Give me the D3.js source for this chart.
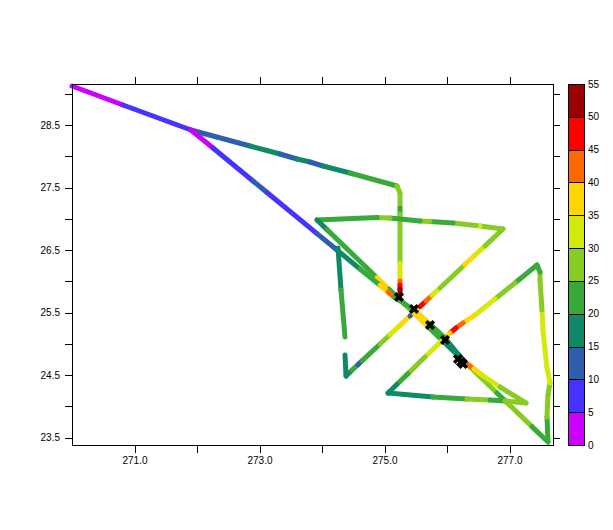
<!DOCTYPE html>
<html>
<head>
<meta charset="utf-8">
<script src="https://cdn.jsdelivr.net/npm/d3@7"></script>
<style>
  html, body { margin: 0; padding: 0; background: #fff; }
  svg text { font-family: "Liberation Sans", Arial, sans-serif; font-size: 10px; fill: #000; }
</style>
</head>
<body>
<svg id="chart" width="613" height="530"></svg>
<script>
// ---------- data ----------
// each point: [longitude, latitude, value]; value colours the segment that starts at the point
const legOutbound = [
  [270.000, 29.124, 2], [270.816, 28.820, 7], [271.904, 28.420, 12], [272.848, 28.164, 17],
  [273.328, 28.036, 12], [273.600, 27.956, 17], [273.808, 27.908, 12], [274.016, 27.844, 17],
  [274.448, 27.732, 22], [275.200, 27.524, 27], [275.248, 27.412, 27], [275.248, 27.172, 22],
  [275.248, 27.076, 27], [275.248, 26.292, 32], [275.248, 26.004, 42], [275.248, 25.940, 48],
  [275.248, 25.876, 52], [275.248, 25.828, 52]
];
const legDiagonal = [
  [271.904, 28.420, 3], [272.256, 28.132, 7], [272.896, 27.604, 12], [273.120, 27.420, 7],
  [273.920, 26.762, 12], [274.240, 26.500, 17], [274.608, 26.196, 22], [274.928, 25.934, 35],
  [275.056, 25.828, 42], [275.152, 25.748, 22], [275.232, 25.700, 22], [275.472, 25.540, 35],
  [275.728, 25.316, 22], [275.968, 25.092, 17], [276.176, 24.836, 17], [276.304, 24.692, 42],
  [276.432, 24.596, 36], [276.560, 24.500, 30], [276.848, 24.308, 27], [277.264, 24.052, 27]
];
const legSouth = [
  [274.256, 26.532, 17], [274.304, 25.860, 22], [274.368, 25.108, 22]
];
const legPattern = [
  [274.368, 24.820, 17], [274.384, 24.484, 17], [274.480, 24.577, 22], [274.576, 24.666, 12],
  [274.640, 24.727, 22], [274.928, 24.996, 27], [275.088, 25.145, 32], [275.248, 25.295, 35],
  [275.408, 25.444, 12], [275.488, 25.519, 36], [275.568, 25.594, 48], [275.664, 25.684, 42],
  [275.760, 25.774, 32], [275.888, 25.892, 27], [276.288, 26.268, 36], [276.448, 26.417, 32],
  [276.608, 26.567, 27], [276.896, 26.836, 27], [276.528, 26.884, 32], [276.464, 26.892, 27],
  [276.096, 26.932, 22], [275.728, 26.956, 27], [275.568, 26.964, 22], [275.088, 27.012, 27],
  [274.880, 27.020, 22], [273.920, 26.980, 17], [274.080, 26.826, 22], [274.880, 26.057, 35],
  [275.072, 25.873, 22], [275.328, 25.626, 27], [275.472, 25.489, 35], [275.696, 25.273, 22],
  [275.936, 25.042, 17], [276.128, 24.858, 22], [276.368, 24.628, 27], [276.800, 24.212, 22],
  [276.960, 24.058, 27], [277.360, 23.674, 22], [277.616, 23.428, 22], [277.600, 23.828, 27],
  [277.616, 24.180, 27], [277.648, 24.372, 30], [277.600, 24.612, 32], [277.568, 24.900, 32],
  [277.536, 25.220, 32], [277.520, 25.540, 27], [277.488, 26.020, 27], [277.488, 26.148, 22],
  [277.440, 26.260, 22], [277.088, 25.972, 27], [276.768, 25.716, 32], [276.448, 25.460, 36],
  [276.256, 25.332, 42], [276.144, 25.252, 48], [276.048, 25.172, 36], [275.888, 25.018, 32],
  [275.648, 24.788, 27], [275.376, 24.522, 22], [275.200, 24.351, 17], [275.056, 24.212, 17],
  [275.776, 24.148, 22], [276.320, 24.116, 27], [276.688, 24.100, 22], [276.928, 24.084, 27],
  [277.264, 24.052, 27]
];
const centerFixes = [
  [275.232, 25.748], [275.472, 25.556], [275.728, 25.300], [275.968, 25.060],
  [276.176, 24.756], [276.224, 24.708], [276.256, 24.676]
];
const legs = [legSouth, legOutbound, legPattern, legDiagonal];

const colorLevels = [5, 10, 15, 20, 25, 30, 35, 40, 45, 50];
const colorList = ["#cc00ff", "#4733ff", "#2e5fae", "#0e8a66", "#38aa3a", "#86cc24",
                   "#d4ea0c", "#ffd700", "#ff6a00", "#ff0000", "#9c0000"];
const colorBarLabels = [0, 5, 10, 15, 20, 25, 30, 35, 40, 45, 50, 55];

const xMajorTicks = [271, 273, 275, 277];
const xMajorLabels = ["271.0", "273.0", "275.0", "277.0"];
const xAllTicks = [271, 272, 273, 274, 275, 276, 277];
const yMajorTicks = [23.5, 24.5, 25.5, 26.5, 27.5, 28.5];
const yMajorLabels = ["23.5", "24.5", "25.5", "26.5", "27.5", "28.5"];
const yAllTicks = [23.5, 24, 24.5, 25, 25.5, 26, 26.5, 27, 27.5, 28, 28.5, 29];

// ---------- layout ----------
const L = 72, R = 553, T = 84, B = 445;
const svg = d3.select("#chart");

const x = d3.scaleLinear().domain([270, 277.696]).range([L, R]);
const y = d3.scaleLinear().domain([23.38, 29.156]).range([B, T]);
const color = d3.scaleThreshold().domain(colorLevels).range(colorList);

// ---------- track ----------
const track = svg.append("g");
legs.forEach(leg => {
  const segs = d3.pairs(leg);
  track.selectAll(null).data(segs).enter().append("line")
    .attr("x1", d => x(d[0][0])).attr("y1", d => y(d[0][1]))
    .attr("x2", d => x(d[1][0])).attr("y2", d => y(d[1][1]))
    .attr("stroke", d => color(d[0][2]))
    .attr("stroke-width", 5)
    .attr("stroke-linecap", "round");
});

// ---------- centre fixes ----------
const sym = d3.symbol().type(d3.symbolCross).size(64);
svg.append("g").selectAll("path").data(centerFixes).enter().append("path")
  .attr("d", sym)
  .attr("transform", d => `translate(${x(d[0])},${y(d[1])}) rotate(45)`)
  .attr("fill", "#000");

// ---------- axes ----------
function strip(g) { g.select(".domain").remove(); }
const tl = 7;
svg.append("g").attr("transform", `translate(0,${B})`)
  .call(d3.axisBottom(x).tickValues(xAllTicks).tickSize(8).tickFormat(d => {
    const i = xMajorTicks.indexOf(d); return i >= 0 ? xMajorLabels[i] : "";
  }).tickPadding(4))
  .call(strip);
svg.append("g").attr("transform", `translate(0,${T})`)
  .call(d3.axisTop(x).tickValues(xAllTicks).tickSize(tl).tickFormat(""))
  .call(strip);
svg.append("g").attr("transform", `translate(${L},0)`)
  .call(d3.axisLeft(y).tickValues(yAllTicks).tickSize(tl).tickFormat(d => {
    const i = yMajorTicks.indexOf(d); return i >= 0 ? yMajorLabels[i] : "";
  }).tickPadding(5))
  .call(strip);
svg.append("g").attr("transform", `translate(${R},0)`)
  .call(d3.axisRight(y).tickValues(yAllTicks).tickSize(tl).tickFormat(""))
  .call(strip);
svg.selectAll(".tick text").attr("font-family", "Liberation Sans, Arial, sans-serif").attr("font-size", 10);
svg.selectAll(".tick line").attr("shape-rendering", "crispEdges");

svg.append("rect").attr("x", L + 0.5).attr("y", T + 0.5)
  .attr("width", R - L).attr("height", B - T)
  .attr("fill", "none").attr("stroke", "#000").attr("stroke-width", 1)
  .attr("shape-rendering", "crispEdges");

// ---------- colour bar ----------
const cb = d3.scaleLinear().domain([0, 55]).range([B, T]);
const cbX = 568, cbW = 16;
const bins = d3.pairs(colorBarLabels);
svg.append("g").selectAll("rect").data(bins).enter().append("rect")
  .attr("x", cbX + 0.5).attr("y", d => cb(d[1]) + 0.5)
  .attr("width", cbW).attr("height", d => cb(d[0]) - cb(d[1]))
  .attr("fill", d => color(d[0]))
  .attr("stroke", "#000").attr("stroke-width", 1)
  .attr("shape-rendering", "crispEdges");
svg.append("g").selectAll("text").data(colorBarLabels).enter().append("text")
  .attr("x", 588).attr("y", d => cb(d)).attr("dy", "0.35em")
  .text(d => d);
</script>
</body>
</html>
